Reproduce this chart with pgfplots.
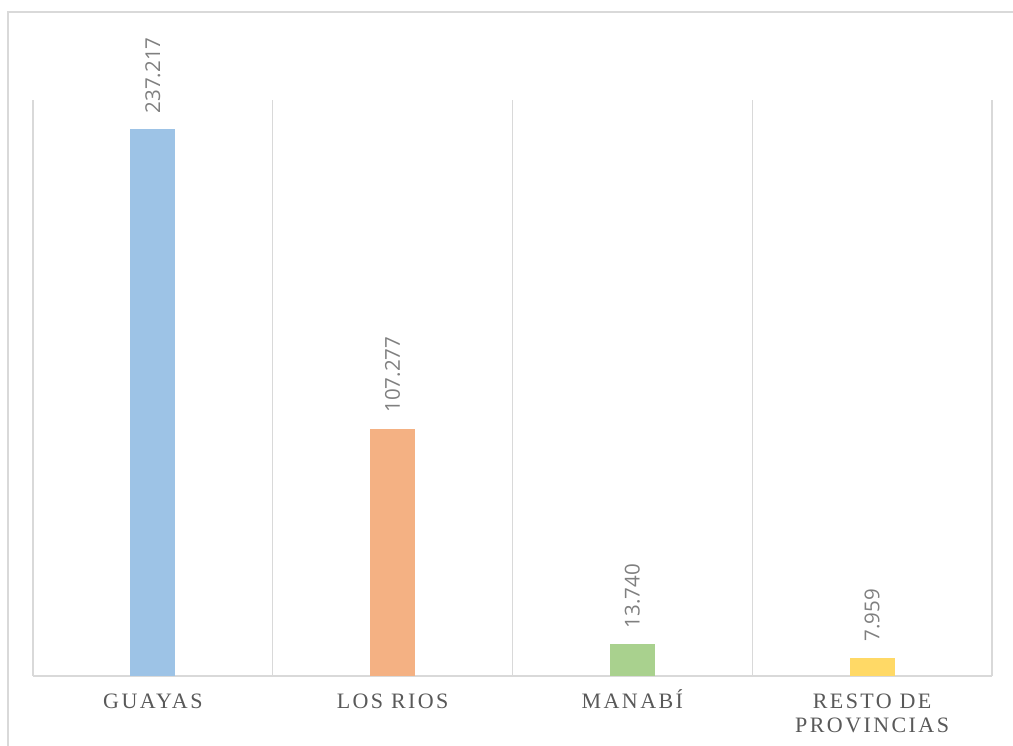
\documentclass[border=0pt]{standalone}
\usepackage{pgfplots}
\pgfplotsset{compat=1.18}
\usepackage{fontspec}
\setmainfont{Liberation Serif}
\newfontfamily\catfont[LetterSpace=11]{Liberation Serif}
\newfontfamily\valfont{Open Sans}
\definecolor{cblue}{HTML}{9DC3E6}
\definecolor{corange}{HTML}{F4B183}
\definecolor{cgreen}{HTML}{A9D18E}
\definecolor{cyellow}{HTML}{FFD966}
\definecolor{gridc}{HTML}{D9D9D9}
\definecolor{labc}{HTML}{595959}
\definecolor{valc}{HTML}{7F7F7F}
\newcommand\lbstrut{\rule{0pt}{21pt}}
\begin{document}
\begin{tikzpicture}[x=1pt,y=1pt]
\useasboundingbox (0,0) rectangle (1013,746);
\draw[gridc, line width=1.3pt] (8,0) -- (8,734) -- (1013,734);
\begin{axis}[
  at={(33pt,70pt)}, anchor=south west,
  scale only axis, width=959pt, height=576pt,
  xmin=-0.5, xmax=3.5, ymin=0, ymax=250,
  clip=false,
  axis y line=none,
  axis x line*=bottom,
  x axis line style={gridc, line width=1.3pt, -},
  xtick={0,1,2,3},
  xticklabels={\lbstrut GUAYAS, \lbstrut LOS RIOS, \lbstrut MANABÍ, {\lbstrut RESTO DE\\PROVINCIAS}},
  minor xtick={-0.5,0.5,1.5,2.5,3.5},
  xminorgrids,
  minor grid style={gridc, line width=1.3pt},
  major tick length=0pt, minor tick length=0pt,
  xticklabel style={font=\catfont\fontsize{22}{24}\selectfont, text=labc, align=center, inner sep=0pt, anchor=north, yshift=-11.5pt},
  ybar, bar width=45pt, bar shift=0pt,
  nodes near coords={\pgfmathprintnumber[fixed,precision=3,zerofill,assume math mode=true]{\pgfplotspointmeta}},
  nodes near coords style={rotate=90, anchor=west, font=\valfont\fontsize{20.5}{22}\selectfont, text=valc, inner xsep=16pt, inner ysep=0pt},
]
\addplot[fill=cblue, draw=none] coordinates {(0,237.217)};
\addplot[fill=corange, draw=none] coordinates {(1,107.277)};
\addplot[fill=cgreen, draw=none] coordinates {(2,13.740)};
\addplot[fill=cyellow, draw=none] coordinates {(3,7.959)};
\end{axis}
\end{tikzpicture}
\end{document}
